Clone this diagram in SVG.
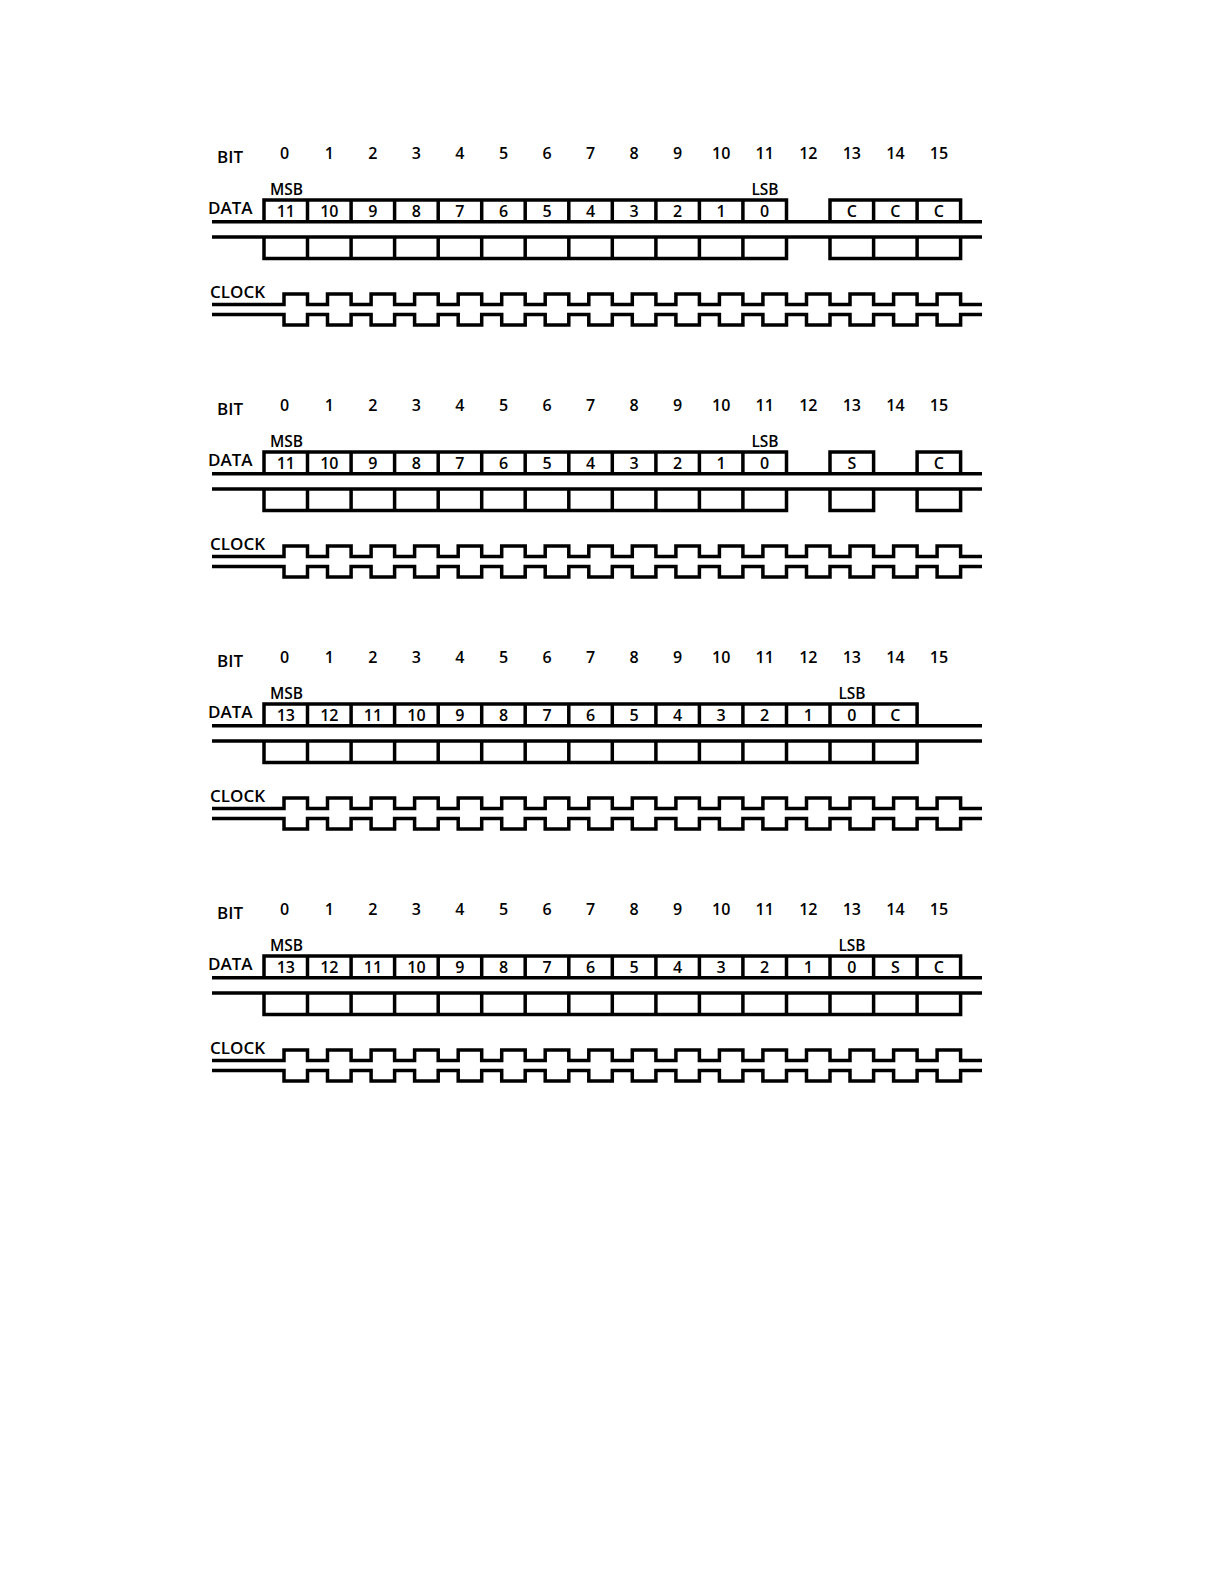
<svg xmlns="http://www.w3.org/2000/svg" xmlns:xlink="http://www.w3.org/1999/xlink" width="1224" height="1584" viewBox="0 0 1224 1584">
<style>
.ln{fill:none;stroke:#000;stroke-width:3.5;stroke-linejoin:miter;stroke-linecap:butt}
.t{font-family:"Open Sans","Noto Sans","DejaVu Sans",sans-serif;fill:#000}
.lab{font-size:17px;font-weight:600}
.num{font-size:16px;font-weight:600;text-anchor:middle}
.sb{font-size:15.5px;font-weight:600;text-anchor:middle}
.bx{font-size:16px;font-weight:600;text-anchor:middle}
</style>
<defs>
<path id="dv" class="ln" d="M0 200V221.7M0 237V258.5"/>
<path id="clkU" class="ln" d="M212 304.5H284V294H307.5V304.5H327.5V294H351.1V304.5H371.1V294H394.6V304.5H414.6V294H438.2V304.5H458.2V294H481.7V304.5H501.7V294H525.2V304.5H545.2V294H568.8V304.5H588.8V294H612.3V304.5H632.3V294H655.9V304.5H675.9V294H699.4V304.5H719.4V294H742.9V304.5H762.9V294H786.5V304.5H806.5V294H830V304.5H850V294H873.6V304.5H893.6V294H917.1V304.5H937.1V294H960.6V304.5H982"/>
<g id="clock">
<use xlink:href="#clkU"/>
<use xlink:href="#clkU" transform="matrix(1,0,0,-1,0,619)"/>
</g>
<g id="bitrow" class="t num">
<text x="284.5" y="158.5">0</text><text x="329.3" y="158.5">1</text><text x="372.9" y="158.5">2</text><text x="416.4" y="158.5">3</text><text x="459.9" y="158.5">4</text><text x="503.5" y="158.5">5</text><text x="547" y="158.5">6</text><text x="590.6" y="158.5">7</text><text x="634.1" y="158.5">8</text><text x="677.6" y="158.5">9</text><text x="721.2" y="158.5">10</text><text x="764.7" y="158.5">11</text><text x="808.3" y="158.5">12</text><text x="851.8" y="158.5">13</text><text x="895.4" y="158.5">14</text><text x="938.9" y="158.5">15</text>
</g>
<g id="labels" class="t lab">
<text x="217" y="162.5">BIT</text>
<text x="208" y="214">DATA</text>
<text x="210" y="298">CLOCK</text>
</g>
<path id="rails" class="ln" d="M212 221.7H982M212 237H982"/>
</defs>

<g id="panel1">
<use xlink:href="#labels"/>
<use xlink:href="#bitrow"/>
<text class="t sb" x="286.5" y="195">MSB</text>
<text class="t sb" x="765" y="195">LSB</text>
<g id="p1-data">
<use xlink:href="#rails"/>
<path class="ln" d="M264 221.7V200H786.5V221.7M830 221.7V200H960.6V221.7M264 237V258.5H786.5V237M830 237V258.5H960.6V237"/>
<use xlink:href="#dv" x="307.5"/><use xlink:href="#dv" x="351.1"/><use xlink:href="#dv" x="394.6"/><use xlink:href="#dv" x="438.2"/><use xlink:href="#dv" x="481.7"/><use xlink:href="#dv" x="525.2"/><use xlink:href="#dv" x="568.8"/><use xlink:href="#dv" x="612.3"/><use xlink:href="#dv" x="655.9"/><use xlink:href="#dv" x="699.4"/><use xlink:href="#dv" x="742.9"/><use xlink:href="#dv" x="873.6"/><use xlink:href="#dv" x="917.1"/>
<g class="t bx">
<text x="285.8" y="217">11</text><text x="329.3" y="217">10</text><text x="372.9" y="217">9</text><text x="416.4" y="217">8</text><text x="459.9" y="217">7</text><text x="503.5" y="217">6</text><text x="547" y="217">5</text><text x="590.6" y="217">4</text><text x="634.1" y="217">3</text><text x="677.6" y="217">2</text><text x="721.2" y="217">1</text><text x="764.7" y="217">0</text><text x="851.8" y="217">C</text><text x="895.4" y="217">C</text><text x="938.9" y="217">C</text>
</g>
</g>
<use xlink:href="#clock"/>
</g>

<g id="panel2" transform="translate(0,252)">
<use xlink:href="#labels"/>
<use xlink:href="#bitrow"/>
<text class="t sb" x="286.5" y="195">MSB</text>
<text class="t sb" x="765" y="195">LSB</text>
<g id="p2-data">
<use xlink:href="#rails"/>
<path class="ln" d="M264 221.7V200H786.5V221.7M830 221.7V200H873.6V221.7M917.1 221.7V200H960.6V221.7M264 237V258.5H786.5V237M830 237V258.5H873.6V237M917.1 237V258.5H960.6V237"/>
<use xlink:href="#dv" x="307.5"/><use xlink:href="#dv" x="351.1"/><use xlink:href="#dv" x="394.6"/><use xlink:href="#dv" x="438.2"/><use xlink:href="#dv" x="481.7"/><use xlink:href="#dv" x="525.2"/><use xlink:href="#dv" x="568.8"/><use xlink:href="#dv" x="612.3"/><use xlink:href="#dv" x="655.9"/><use xlink:href="#dv" x="699.4"/><use xlink:href="#dv" x="742.9"/>
<g class="t bx">
<text x="285.8" y="217">11</text><text x="329.3" y="217">10</text><text x="372.9" y="217">9</text><text x="416.4" y="217">8</text><text x="459.9" y="217">7</text><text x="503.5" y="217">6</text><text x="547" y="217">5</text><text x="590.6" y="217">4</text><text x="634.1" y="217">3</text><text x="677.6" y="217">2</text><text x="721.2" y="217">1</text><text x="764.7" y="217">0</text><text x="851.8" y="217">S</text><text x="938.9" y="217">C</text>
</g>
</g>
<use xlink:href="#clock"/>
</g>

<g id="panel3" transform="translate(0,504)">
<use xlink:href="#labels"/>
<use xlink:href="#bitrow"/>
<text class="t sb" x="286.5" y="195">MSB</text>
<text class="t sb" x="852" y="195">LSB</text>
<g id="p3-data">
<use xlink:href="#rails"/>
<path class="ln" d="M264 221.7V200H917.1V221.7M264 237V258.5H917.1V237"/>
<use xlink:href="#dv" x="307.5"/><use xlink:href="#dv" x="351.1"/><use xlink:href="#dv" x="394.6"/><use xlink:href="#dv" x="438.2"/><use xlink:href="#dv" x="481.7"/><use xlink:href="#dv" x="525.2"/><use xlink:href="#dv" x="568.8"/><use xlink:href="#dv" x="612.3"/><use xlink:href="#dv" x="655.9"/><use xlink:href="#dv" x="699.4"/><use xlink:href="#dv" x="742.9"/><use xlink:href="#dv" x="786.5"/><use xlink:href="#dv" x="830"/><use xlink:href="#dv" x="873.6"/>
<g class="t bx">
<text x="285.8" y="217">13</text><text x="329.3" y="217">12</text><text x="372.9" y="217">11</text><text x="416.4" y="217">10</text><text x="459.9" y="217">9</text><text x="503.5" y="217">8</text><text x="547" y="217">7</text><text x="590.6" y="217">6</text><text x="634.1" y="217">5</text><text x="677.6" y="217">4</text><text x="721.2" y="217">3</text><text x="764.7" y="217">2</text><text x="808.3" y="217">1</text><text x="851.8" y="217">0</text><text x="895.4" y="217">C</text>
</g>
</g>
<use xlink:href="#clock"/>
</g>

<g id="panel4" transform="translate(0,756)">
<use xlink:href="#labels"/>
<use xlink:href="#bitrow"/>
<text class="t sb" x="286.5" y="195">MSB</text>
<text class="t sb" x="852" y="195">LSB</text>
<g id="p4-data">
<use xlink:href="#rails"/>
<path class="ln" d="M264 221.7V200H960.6V221.7M264 237V258.5H960.6V237"/>
<use xlink:href="#dv" x="307.5"/><use xlink:href="#dv" x="351.1"/><use xlink:href="#dv" x="394.6"/><use xlink:href="#dv" x="438.2"/><use xlink:href="#dv" x="481.7"/><use xlink:href="#dv" x="525.2"/><use xlink:href="#dv" x="568.8"/><use xlink:href="#dv" x="612.3"/><use xlink:href="#dv" x="655.9"/><use xlink:href="#dv" x="699.4"/><use xlink:href="#dv" x="742.9"/><use xlink:href="#dv" x="786.5"/><use xlink:href="#dv" x="830"/><use xlink:href="#dv" x="873.6"/><use xlink:href="#dv" x="917.1"/>
<g class="t bx">
<text x="285.8" y="217">13</text><text x="329.3" y="217">12</text><text x="372.9" y="217">11</text><text x="416.4" y="217">10</text><text x="459.9" y="217">9</text><text x="503.5" y="217">8</text><text x="547" y="217">7</text><text x="590.6" y="217">6</text><text x="634.1" y="217">5</text><text x="677.6" y="217">4</text><text x="721.2" y="217">3</text><text x="764.7" y="217">2</text><text x="808.3" y="217">1</text><text x="851.8" y="217">0</text><text x="895.4" y="217">S</text><text x="938.9" y="217">C</text>
</g>
</g>
<use xlink:href="#clock"/>
</g>
</svg>
